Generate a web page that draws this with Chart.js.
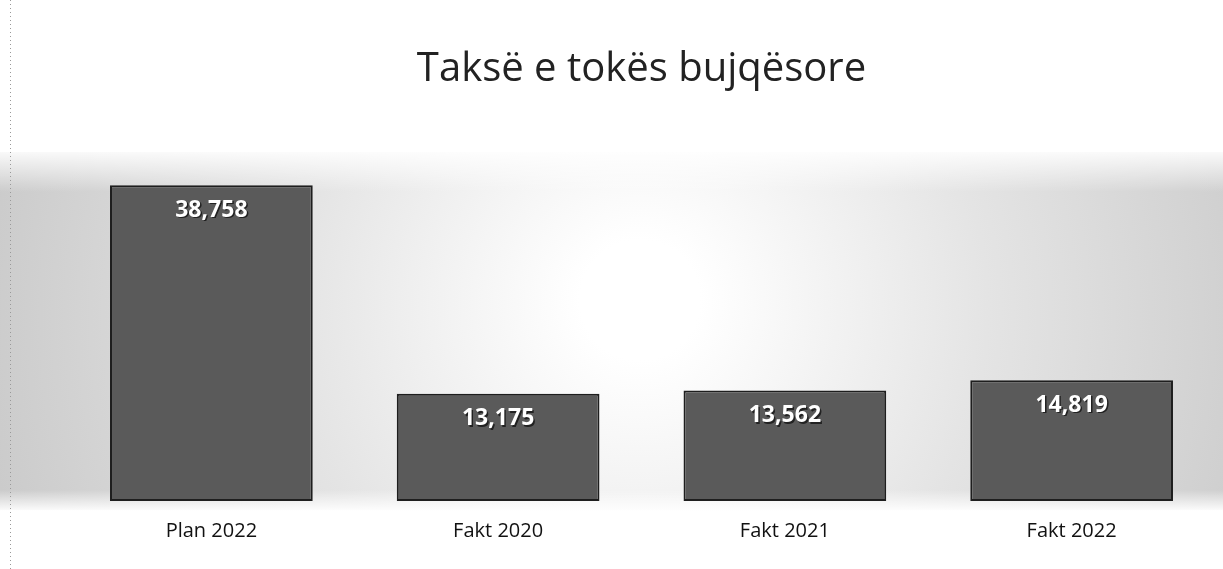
<!DOCTYPE html>
<html><head><meta charset="utf-8">
<script src="https://cdn.jsdelivr.net/npm/chart.js@4"></script>
<style>html,body{margin:0;padding:0;background:#fff;}#wrap{width:1223px;height:569px;position:relative;}</style>
</head><body><div id="wrap"><canvas id="c" width="1223" height="569"></canvas></div>
<script>
const categories = ["Plan 2022", "Fakt 2020", "Fakt 2021", "Fakt 2022"];
const values = [38758, 13175, 13562, 14819];
const valueLabels = ["38,758", "13,175", "13,562", "14,819"];
const titleText = "Taksë e tokës bujqësore";

const bgPlugin = {
  id: 'bg',
  beforeDraw(chart) {
    const ctx = chart.ctx;
    ctx.save();
    const top = 152, bottom = 510;
    const g = ctx.createRadialGradient(640, 300, 60, 640, 320, 700);
    g.addColorStop(0, 'rgba(255,255,255,1)');
    g.addColorStop(0.45, 'rgba(228,228,228,1)');
    g.addColorStop(1, 'rgba(200,200,200,1)');
    ctx.fillStyle = g;
    ctx.fillRect(0, top, 1223, bottom - top);
    const v = ctx.createLinearGradient(0, top - 5, 0, top + 40);
    v.addColorStop(0, 'rgba(255,255,255,1)');
    v.addColorStop(1, 'rgba(255,255,255,0)');
    ctx.fillStyle = v;
    ctx.fillRect(0, top - 5, 1223, 45);
    const b = ctx.createLinearGradient(0, bottom - 20, 0, bottom + 2);
    b.addColorStop(0, 'rgba(255,255,255,0)');
    b.addColorStop(1, 'rgba(255,255,255,1)');
    ctx.fillStyle = b;
    ctx.fillRect(0, bottom - 20, 1223, 22);
    ctx.strokeStyle = '#999';
    ctx.setLineDash([1, 3]);
    ctx.beginPath(); ctx.moveTo(10.5, 0); ctx.lineTo(10.5, 569); ctx.stroke();
    ctx.restore();
  }
};

const labelPlugin = {
  id: 'vlabels',
  afterDatasetsDraw(chart) {
    const ctx = chart.ctx;
    const meta = chart.getDatasetMeta(0);
    ctx.save();
    ctx.font = 'bold 23px "Open Sans", "Liberation Sans", sans-serif';
    ctx.textAlign = 'center';
    ctx.textBaseline = 'middle';
    meta.data.forEach((bar, i) => {
      const x = bar.x, y = bar.y + 25;
      ctx.fillStyle = '#222';
      ctx.fillText(valueLabels[i], x + 1.5, y + 1.5);
      ctx.fillStyle = '#fff';
      ctx.fillText(valueLabels[i], x, y);
    });
    ctx.restore();
  }
};

new Chart(document.getElementById('c'), {
  type: 'bar',
  data: {
    labels: categories,
    datasets: [{
      data: values,
      backgroundColor: '#5a5a5a',
      borderColor: '#1e1e1e',
      borderWidth: 2,
      borderSkipped: false,
      barPercentage: 0.707,
      categoryPercentage: 1.0
    }]
  },
  options: {
    responsive: false,
    animation: false,
    layout: { padding: { left: 68, right: 8, top: 0, bottom: 16 } },
    plugins: {
      legend: { display: false },
      tooltip: { enabled: false },
      title: {
        display: true,
        text: titleText,
        color: '#222',
        font: { family: '"Open Sans", "Liberation Sans", sans-serif', size: 40, weight: 'normal' },
        padding: { top: 46, bottom: 35 }
      }
    },
    scales: {
      x: {
        grid: { display: false, drawBorder: false },
        border: { display: false },
        ticks: { color: '#111', font: { family: '"Open Sans", "Liberation Sans", sans-serif', size: 20 }, padding: 10 }
      },
      y: {
        display: false,
        min: 0,
        max: 45670
      }
    }
  },
  plugins: [bgPlugin, labelPlugin]
});
</script></body></html>
